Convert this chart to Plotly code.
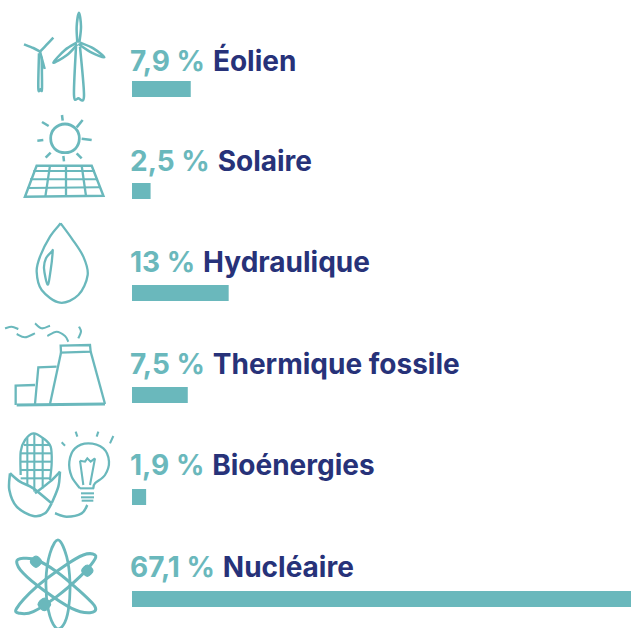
import plotly.graph_objects as go

categories = ["Éolien", "Solaire", "Hydraulique", "Thermique fossile", "Bioénergies", "Nucléaire"]
values = [7.9, 2.5, 13, 7.5, 1.9, 67.1]
value_labels = ["7,9 %", "2,5 %", "13 %", "7,5 %", "1,9 %", "67,1 %"]

W, H = 631, 628
LEFT = 132
TEAL = "#6AB8BC"
NAVY = "#273279"
FONT = "Inter"
FSIZE = 28
LABEL_LIFT = [29, 30, 31, 31, 32, 32]


def px(x, y):
    return x / W, 1 - y / H


def smooth(points, closed=False, sharp=False):
    pts = [px(*p) for p in points]
    n = len(pts)
    if n == 2 or sharp:
        d = "M" + " L".join(f"{a:.5f},{b:.5f}" for a, b in pts)
        return d + (" Z" if closed else "")
    d = f"M{pts[0][0]:.5f},{pts[0][1]:.5f}"
    segs = n if closed else n - 1
    for i in range(segs):
        if closed:
            p0, p1, p2, p3 = pts[(i - 1) % n], pts[i], pts[(i + 1) % n], pts[(i + 2) % n]
        else:
            p0, p1, p2, p3 = pts[max(i - 1, 0)], pts[i], pts[i + 1], pts[min(i + 2, n - 1)]
        c1 = (p1[0] + (p2[0] - p0[0]) / 6, p1[1] + (p2[1] - p0[1]) / 6)
        c2 = (p2[0] - (p3[0] - p1[0]) / 6, p2[1] - (p3[1] - p1[1]) / 6)
        d += f" C{c1[0]:.5f},{c1[1]:.5f} {c2[0]:.5f},{c2[1]:.5f} {p2[0]:.5f},{p2[1]:.5f}"
    return d + (" Z" if closed else "")


shapes = []


def stroke(points, yoff=0, closed=False, width=2.0, fill=None, sharp=False):
    p = [(x / 3, y / 3 + yoff) for x, y in points]
    shapes.append(dict(type="path", xref="paper", yref="paper", path=smooth(p, closed, sharp),
                       line=dict(color=TEAL, width=width * 1.15),
                       fillcolor=fill if fill else "rgba(0,0,0,0)", layer="above"))


# wind turbines
stroke([(232, 128), (230, 80), (237, 38), (243, 80), (238, 128)], width=2.2)
stroke([(240, 128), (280, 145), (313, 172), (275, 158), (235, 132)], width=2.2)
stroke([(230, 128), (195, 150), (160, 188), (200, 166), (232, 133)], width=2.2)
stroke([(228, 140), (222, 285), (235, 295), (252, 288), (240, 140)], width=2.2)
stroke([(72, 133), (100, 144), (120, 155)], width=2.2)
stroke([(160, 113), (140, 134), (120, 155)], width=2.2)
stroke([(120, 155), (134, 207)], width=2.2)
stroke([(117, 160), (115, 265), (122, 268), (126, 265), (125, 170)], width=2.2)
# sun + panel
stroke([(195, 372), (226, 385), (238, 415), (226, 446), (195, 458), (164, 446), (152, 415), (164, 385)], closed=True, width=2.4)
for a, b in [((186, 345), (188, 362)), ((248, 360), (230, 382)), ((245, 416), (275, 420)),
             ((230, 460), (245, 475)), ((190, 468), (192, 484)), ((152, 458), (137, 473)),
             ((112, 422), (130, 420)), ((126, 366), (146, 378))]:
    stroke([a, b], width=2.2)
stroke([(110, 497), (275, 497), (310, 587), (75, 590)], closed=True, sharp=True, width=2.2)
stroke([(100, 513), (285, 513)], width=1.8)
stroke([(90, 538), (293, 538)], width=1.8)
stroke([(82, 564), (300, 562)], width=1.8)
stroke([(150, 497), (136, 590)], width=2)
stroke([(198, 497), (198, 588)], width=2)
stroke([(245, 497), (258, 588)], width=2)
# drop
stroke([(182, 40), (150, 80), (120, 140), (110, 185), (125, 240), (180, 278), (235, 255), (263, 195), (250, 140), (215, 85), (182, 40)], yoff=210, width=2)
stroke([(155, 125), (138, 145), (132, 175), (143, 224), (152, 180), (158, 125)], yoff=210, closed=True, width=2)
# factory
stroke([(182, 407), (270, 405), (272, 425), (183, 428)], yoff=210, closed=True, sharp=True, width=2)
stroke([(183, 428), (150, 582)], yoff=210, width=2)
stroke([(272, 425), (315, 582)], yoff=210, width=2)
stroke([(50, 585), (315, 582)], yoff=210, width=2.4)
stroke([(105, 582), (115, 472), (170, 470)], yoff=210, sharp=True, width=2)
stroke([(47, 585), (47, 527), (105, 525)], yoff=210, sharp=True, width=2)
stroke([(15, 355), (35, 350), (55, 357)], yoff=210, width=1.8)
stroke([(50, 372), (75, 382), (105, 370)], yoff=210, width=1.8)
stroke([(105, 340), (125, 355), (150, 347)], yoff=210, width=1.8)
stroke([(142, 378), (170, 365), (195, 378), (205, 395)], yoff=210, width=1.8)
stroke([(237, 350), (243, 365), (235, 385)], yoff=210, width=1.8)
# corn
stroke([(62, 165), (62, 95), (75, 60), (100, 40), (130, 55), (152, 80), (155, 130), (150, 180)], yoff=420, width=2)
for x, y0, y1 in [(82, 52, 195), (103, 42, 215), (128, 52, 205)]:
    stroke([(x, y0), (x, y1)], yoff=420, width=1.8)
for y, x0, x1 in [(75, 72, 150), (100, 62, 155), (125, 62, 155), (150, 62, 152), (175, 62, 150)]:
    stroke([(x0, y), (x1, y)], yoff=420, width=1.8)
stroke([(30, 160), (28, 210), (50, 260), (100, 288), (135, 280), (155, 250)], yoff=420, width=2.2)
stroke([(155, 250), (100, 205), (60, 185), (30, 160)], yoff=420, width=2.2)
stroke([(180, 155), (150, 185), (105, 220)], yoff=420, width=2.2)
stroke([(180, 155), (175, 200), (155, 250)], yoff=420, width=2.2)
stroke([(165, 280), (200, 290), (245, 280), (262, 255)], yoff=420, width=2.2)
# bulb
stroke([(240, 205), (215, 170), (208, 125), (225, 85), (265, 70), (310, 85), (327, 125), (315, 165), (285, 190), (280, 205)], yoff=420, width=2)
stroke([(240, 122), (250, 195)], yoff=420, width=1.8)
stroke([(285, 115), (270, 195)], yoff=420, width=1.8)
stroke([(240, 122), (255, 125), (262, 115), (272, 125), (285, 115)], yoff=420, sharp=True, width=1.8)
for y, a, b in [(205, 240, 282), (220, 243, 282), (232, 243, 282), (242, 245, 280)]:
    stroke([(a, y), (b, y)], yoff=420, width=1.8)
for a, b in [((227, 35), (232, 50)), ((295, 35), (290, 50)), ((340, 48), (330, 70)), ((185, 67), (195, 77))]:
    stroke([a, b], yoff=420, width=1.8)
# atom
stroke([(50, 425), (70, 415), (110, 420), (170, 455), (230, 505), (285, 560), (270, 578), (215, 565), (130, 510), (70, 460)], yoff=420, closed=True, width=2.6)
stroke([(285, 405), (250, 405), (190, 440), (110, 500), (50, 565), (60, 580), (100, 575), (170, 530), (240, 470), (280, 425)], yoff=420, closed=True, width=2.6)
stroke([(175, 360), (150, 400), (138, 480), (145, 570), (168, 624), (190, 615), (205, 570), (210, 490), (200, 410)], yoff=420, closed=True, width=2.4)
for cx, cy, r in [(108, 425, 17), (262, 452, 17), (133, 553, 19)]:
    stroke([(cx, cy - r), (cx + r, cy), (cx, cy + r), (cx - r, cy)], yoff=420, closed=True, width=1, fill=TEAL)

annotations = [
    dict(xref="x", yref="y", x=0, y=c, xanchor="left", yanchor="middle", xshift=-3, yshift=lift,
         showarrow=False, borderpad=0,
         text=f'<span style="color:{TEAL}"><b>{v}</b></span> <b>{c}</b>',
         font=dict(family=FONT, size=FSIZE, color=NAVY))
    for c, v, lift in zip(categories, value_labels, LABEL_LIFT)
]

fig = go.Figure(go.Bar(
    x=values, y=categories, orientation="h", marker=dict(color=TEAL, line=dict(width=0)),
    hoverinfo="skip", showlegend=False,
))
fig.update_layout(
    width=W, height=H, margin=dict(l=0, r=0, t=0, b=0),
    paper_bgcolor="white", plot_bgcolor="white", bargap=1 - 16 / 102,
    shapes=shapes, annotations=annotations,
    xaxis=dict(domain=[LEFT / W, 1], range=[0, 67.1], visible=False, fixedrange=True),
    yaxis=dict(type="category", categoryorder="array", categoryarray=categories,
               range=[5.284, -0.8725], visible=False, fixedrange=True),
)
fig.write_html("out.html", config={"displayModeBar": False},
               post_script="document.body.style.margin='0';")
